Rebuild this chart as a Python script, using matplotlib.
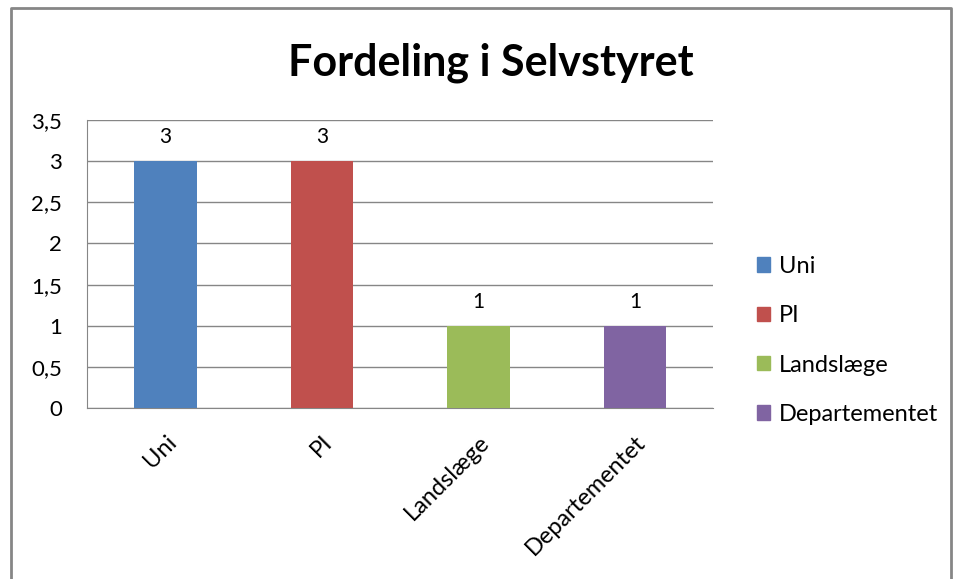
import matplotlib.pyplot as plt
from matplotlib.ticker import FuncFormatter
from matplotlib.patches import Patch
from matplotlib.lines import Line2D

categories = ['Uni', 'PI', 'Landslæge', 'Departementet']
values = [3, 3, 1, 1]
colors = ['#4F81BD', '#C0504D', '#9BBB59', '#8064A2']
title = 'Fordeling i Selvstyret'

plt.rcParams['font.family'] = ['Lato', 'DejaVu Sans']

fig = plt.figure(figsize=(9.56, 5.79), dpi=100)
ax = fig.add_axes([0.091, 0.2953, 0.655, 0.4974])

x = range(len(categories))
bars = ax.bar(x, values, width=0.4, color=colors, zorder=3)
for b, v in zip(bars, values):
    ax.annotate(str(v), (b.get_x() + b.get_width() / 2, v), xytext=(0, 10),
                textcoords='offset points', ha='center', va='bottom', fontsize=15)

ax.set_xlim(-0.5, len(categories) - 0.5)
ax.set_ylim(0, 3.5)
ax.set_yticks([i * 0.5 for i in range(8)])
ax.yaxis.set_major_formatter(FuncFormatter(lambda v, p: f'{v:g}'.replace('.', ',')))
ax.grid(axis='y', color='#868686', linewidth=1, zorder=0)
ax.set_xticks(list(x))
ax.set_xticklabels(categories, rotation=45, ha='right', rotation_mode='anchor', fontsize=17)
ax.tick_params(axis='x', length=0, pad=17)
ax.tick_params(axis='y', length=0, pad=18, labelsize=16)
for s in ['top', 'right']:
    ax.spines[s].set_visible(False)
for s in ['left', 'bottom']:
    ax.spines[s].set_color('#868686')

fig.text(0.513, 0.892, title, ha='center', va='center', fontsize=31, fontweight='bold')

handles = [Patch(color=c) for c in colors]
fig.legend(handles, categories, loc='center left', bbox_to_anchor=(0.770, 0.412),
           frameon=False, fontsize=17, handlelength=0.55, handleheight=0.55,
           handletextpad=0.35, labelspacing=1.2)

# outer chart border
fig.add_artist(Line2D([0.011, 0.011, 0.995, 0.995], [0.0, 0.986, 0.986, 0.0],
                      transform=fig.transFigure, color='#868686', linewidth=2))

fig.savefig('out.png', dpi=100)
